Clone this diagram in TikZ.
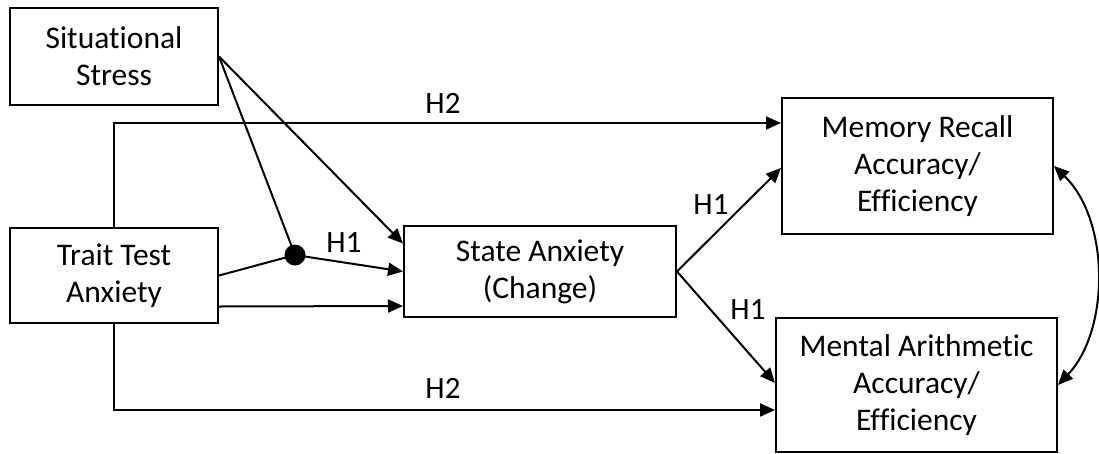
\documentclass[tikz,border=0pt]{standalone}
\usepackage{fontspec}
\setmainfont[Ligatures=NoCommon]{Carlito}
\usetikzlibrary{arrows.meta,calc}
\begin{document}
\begin{tikzpicture}[x=1pt,y=-1pt,
  box/.style={draw, line width=2pt, align=center, inner sep=0pt,
    font=\fontsize{31.5}{37}\selectfont},
  arr/.style={line width=2pt, -{Triangle[length=15pt,width=13pt]}},
  ln/.style={line width=2pt},
  lbl/.style={font=\fontsize{31}{34}\selectfont, inner sep=0pt}]
\useasboundingbox (0,0) rectangle (1099,453);
\node[box, minimum width=208pt, minimum height=97pt] (ss) at (114,56.5) {Situational\\Stress};
\node[box, minimum width=208pt, minimum height=95pt] (trait) at (114,275.5) {Trait Test\\Anxiety};
\node[box, minimum width=272pt, minimum height=91pt] (state) at (540,271.5) {State Anxiety\\(Change)};
\node[box, minimum width=271pt, minimum height=136pt] (mem) at (917.5,166) {Memory Recall\\Accuracy/\\Efficiency};
\node[box, minimum width=281pt, minimum height=134pt] (ment) at (916.5,385) {Mental Arithmetic\\Accuracy/\\Efficiency};
\node[circle, fill=black, minimum size=21pt, inner sep=0pt] (dot) at (295,255) {};
\coordinate (stA) at ($(state.west)+(0,-28)$);
\coordinate (stC) at ($(state.west)+(0,34.5)$);
\coordinate (trC) at ($(trait.east)+(0,31)$);
\coordinate (memA) at ($(mem.west)+(0,-43)$);
\coordinate (memB) at ($(mem.west)+(0,2)$);
\coordinate (mentA) at ($(ment.west)+(0,-2)$);
\coordinate (mentB) at ($(ment.west)+(0,25)$);
\draw[ln] (ss.east) -- (dot.center);
\draw[arr] (ss.east) -- (stA);
\draw[ln] (trait.east) -- (dot.center);
\draw[arr] (dot.center) -- (state.west);
\draw[arr] (trC) -- (stC);
\draw[arr] (trait.north) |- (memA);
\draw[arr] (trait.south) |- (mentB);
\draw[arr] (state.east) -- (memB);
\draw[arr] (state.east) -- (mentA);
\draw[line width=2pt, {Triangle[length=15pt,width=13pt]}-{Triangle[length=15pt,width=13pt]}]
  (mem.east) .. controls (1110,220) and (1110,330) .. (ment.east);
\node[lbl] (h2a) at (443,103) {H2};
\node[lbl] (h2b) at (443,388) {H2};
\node[lbl] (h1a) at (344,243) {H1};
\node[lbl] (h1b) at (711,205) {H1};
\node[lbl] (h1c) at (748,310) {H1};
\end{tikzpicture}
\end{document}
